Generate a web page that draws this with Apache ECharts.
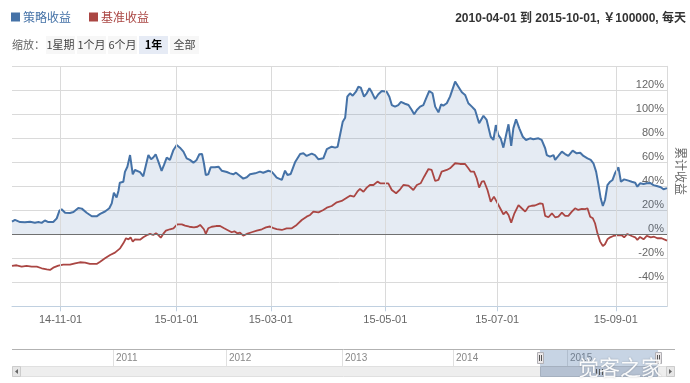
<!DOCTYPE html>
<html>
<head>
<meta charset="utf-8">
<script src="https://cdn.jsdelivr.net/npm/echarts@6.0.0/dist/echarts.min.js"></script>
<style>
html,body{margin:0;padding:0;background:#fff;}
#chart{width:690px;height:383px;}
</style>
</head>
<body>
<div id="chart"></div>
<script>
// x = trading-day index from 2014-10-08 (0) to 2015-09-30 (243)
const seriesNames = ['策略收益', '基准收益'];
const strategy = [[0,10.5],[1.1,12],[3,10.2],[4.8,10],[6.7,10.5],[8.5,9.7],[9.8,10.2],[11,9.5],[12.2,11.5],[13.5,10.2],[14.1,8.7],[15.3,10.2],[16.6,13.3],[17.6,19.7],[18.4,20.8],[19.7,18],[21.5,17.8],[22.8,18.6],[24.6,22],[25.9,21.4],[27.7,18],[29.6,15],[31.4,15],[32.7,17],[34.5,19],[36.1,21.7],[37,25.8],[37.8,34.7],[38.8,30.7],[39.5,36.3],[40,43],[41.3,43.8],[41.9,52],[42.8,56.3],[43.8,66],[44.8,50],[45.6,53.6],[47.5,51.8],[48.7,48.3],[49.7,57.8],[50.6,66],[51.6,62.5],[52.4,64],[53.3,66.7],[54.3,60.5],[55.5,52.8],[56.4,57.8],[57.4,63.9],[58.6,62],[59.9,70.3],[61.1,74.4],[62.3,72.2],[63.6,68.9],[64.8,63.3],[66,62],[67.3,59.7],[68.5,62],[69.5,66.7],[70.5,66.9],[71.2,59.2],[71.9,49.4],[72.8,50],[73.7,55.8],[75.3,55.8],[76.6,56.3],[77.8,53],[79.7,51.9],[80.9,50.8],[82.1,50],[83.1,51.3],[84.6,48.6],[85.8,46.4],[87.1,47.5],[88.3,50],[90.2,50.8],[92,52.2],[93.2,51.3],[95.1,53],[96.4,52],[97.2,50],[98.2,47.2],[100.1,45.3],[101.3,53],[102.2,49.4],[103.4,50.3],[105,60],[106.9,66.9],[108.1,67.5],[109.3,65.3],[111.2,67.2],[112.4,66],[113.7,62.5],[115.5,63.3],[116.8,71],[118.6,73],[119.9,72.2],[120.8,72.9],[121.7,82.8],[122.7,93.8],[123.6,97.2],[124.4,114.7],[125.4,117.5],[126.4,115.5],[127.6,118.8],[128.5,123],[129.4,122.2],[130.6,114.7],[131.6,117.5],[132.6,121.7],[133.5,118.3],[134.7,112.7],[135.9,116.7],[137.2,119.4],[139,118.8],[140,114.7],[140.9,107.7],[142.1,106.4],[143.3,107.7],[144.3,110.3],[145.8,108.8],[147.1,107.7],[148.3,103.6],[149.2,100],[150.2,103.6],[151.4,106.4],[152.6,107.7],[153.9,114.7],[154.8,119.4],[156,117.5],[157,106.4],[158.2,101.6],[159.2,108.3],[160,107.2],[161.3,109.2],[162.5,114.7],[163.2,116.1],[164.4,127.2],[165.6,123],[166.9,118.3],[168.1,116.1],[169.3,109.2],[170.6,106.4],[171.8,103.6],[173.3,92.5],[174.9,98.8],[176.1,95.3],[177.6,81.3],[178.6,78.6],[179.5,91],[180.4,82.8],[181.3,80],[182.3,72.2],[183.3,82.8],[184.2,91.7],[185.2,73.6],[186,88.3],[187,95.8],[188.2,88.3],[189.5,81.3],[190.7,78.6],[192.2,80],[193.4,79.2],[195.3,80],[196.5,78.6],[197.8,71.7],[198.4,66],[199.6,64.7],[200.9,66],[201.5,62],[202.7,65.3],[204,68.9],[205.2,66.9],[206.4,65.3],[208,69.7],[209.5,67.5],[210.8,68],[212,65.3],[213.5,63.3],[214.7,62],[215.7,59.2],[216.7,52.2],[217.6,41],[218.4,30],[219.2,23.6],[220,28.6],[220.9,41],[221.9,43.8],[222.8,45.3],[223.7,50.8],[225,55.8],[225.9,43.8],[227.1,45.8],[228.7,44.7],[229.9,43.8],[231.2,43],[232,39.7],[233,42.5],[234.3,41.9],[235.5,42.5],[236.7,42.8],[238,41],[239.2,40.2],[240.7,39.2],[241.7,37.5],[243,38.5]];
const benchmark = [[0,-26.4],[1.7,-25.8],[3.6,-27],[5.4,-26.4],[7.3,-27],[9.2,-27],[11,-28.3],[12.9,-29.2],[14.1,-29.7],[15.3,-27.8],[17.2,-26.1],[19,-25.3],[21.5,-25.3],[23.4,-24.2],[25.2,-23.3],[27.1,-23.6],[28.9,-24.7],[31.4,-24.7],[32.7,-22.8],[34.5,-20],[36.4,-17.2],[38.2,-15.3],[40.1,-11.7],[41.3,-7.5],[42.3,-3.3],[43.2,-4.2],[44,-2.5],[44.8,-6.1],[45.6,-4.2],[47.5,-4.5],[48.7,-2.5],[50,-0.8],[51.2,0.3],[52.4,-0.6],[53.4,0.8],[54.3,-0.6],[55.2,-2.8],[56.1,0.3],[57.1,3],[58.6,4.2],[59.9,5],[61.3,8.3],[63,8.3],[64.2,7.2],[65.8,6.3],[67.5,5.8],[68.8,6.3],[69.8,7.8],[70.5,8.3],[71.2,4.2],[71.9,0.3],[72.8,5],[74.1,6.3],[75.7,6.9],[77.2,6.9],[78.7,5],[79.9,3.6],[81.5,1.7],[82.5,2.5],[83.6,0.8],[84.6,1.4],[85.8,-1.1],[87.1,0.3],[88.9,1.7],[90.8,3],[92.7,4.2],[94.2,5.8],[95.7,6.5],[97,5.2],[98.2,4.4],[100.1,3.6],[101.9,5],[103.8,5],[105.6,7.8],[107.5,11.9],[109.3,14.7],[110.6,16.1],[111.8,18.9],[113.7,18.3],[115.5,20.3],[116.8,22.2],[118.6,23.6],[120.5,26.7],[122.3,27.8],[124.2,30.5],[125.4,32.2],[126.9,31.4],[128.1,35.5],[129.1,37.8],[130.4,35.5],[131.6,38.9],[132.8,41.1],[134.1,41.1],[135.6,43.9],[136.6,42.5],[137.8,42.5],[139.6,42.5],[140.9,36.9],[142.5,34.2],[144,37.5],[145.2,41.1],[147.1,40.5],[148.9,36.9],[150.2,41.1],[151.6,42.5],[152.9,48],[154.5,54.4],[155.7,53.6],[157,44.4],[158.2,45.3],[159.4,52.2],[161.3,53.6],[162.5,55],[164.4,59.2],[166.2,58.6],[168.1,58.6],[169.3,55],[170.2,52.2],[171.4,52.2],[172.4,46.7],[173.3,38.9],[174.3,43.9],[175.1,44.4],[176.4,36.9],[177.6,27.2],[178.8,31.4],[179.8,27.2],[181.1,21.7],[182.3,16.7],[183.3,18.9],[184.2,16.1],[185.2,9.7],[186.4,17.5],[187.9,24.4],[189.1,21.7],[190.4,18.9],[191.6,23],[192.8,23.8],[194,24],[195.9,25.8],[196.9,25.3],[197.8,15.3],[199,14.2],[200.3,17.5],[201.5,14.2],[202.7,14.7],[204,18],[205.2,15.3],[206.4,15.3],[207.7,18.9],[208.9,21.7],[210.1,20.3],[211.4,21.1],[212.6,21],[213.5,21.7],[214.5,14.7],[215.5,13.3],[216.3,9.2],[217.2,0.8],[218.2,-6.1],[219.2,-9.7],[220,-8.3],[220.9,-4.2],[221.9,-2.5],[223.1,-1.4],[225,-0.6],[226.2,-0.8],[227.1,-2.5],[228.3,0.3],[229.9,-1.4],[231.2,-2.5],[232,-4.7],[233,-2.2],[234.3,-4.2],[235.5,-1.4],[237,-2.5],[238.2,-2],[239.4,-3.3],[241,-3.3],[243,-5.3]];
const tickDays = [18, 61, 96, 138.5, 180, 224];
const tickLabels = ['14-11-01', '15-01-01', '15-03-01', '15-05-01', '15-07-01', '15-09-01'];
const yearLabels = ['2011', '2012', '2013', '2014', '2015'];
const rangeButtons = ['1星期', '1个月', '6个月', '1年', '全部'];
const headerText = '2010-04-01 到 2015-10-01, ￥100000, 每天';

const FONT = '"Liberation Sans", "Noto Sans CJK SC", sans-serif';
const CJK = '"Noto Sans CJK SC", "Liberation Sans", sans-serif';

const chart = echarts.init(document.getElementById('chart'), null, {renderer: 'canvas'});

// decorative elements (range selector, navigator, header)
const g = [];
g.push({type:'text', x:686, y:19, style:{text:headerText, fill:'#333', font:'bold 12px ' + FONT, align:'right', verticalAlign:'middle'}});
g.push({type:'text', x:12, y:45, style:{text:'缩放：', fill:'#666', font:'11px ' + CJK, align:'left', verticalAlign:'middle'}});
const btnX = [46, 77, 108, 139, 170];
const btnW = [29, 29, 29, 29, 29];
rangeButtons.forEach((t, i) => {
  const sel = t === '1年';
  g.push({type:'rect', shape:{x:btnX[i], y:36, width:btnW[i], height:18}, style:{fill: sel ? '#e6ebf5' : '#f7f7f7'}});
  g.push({type:'text', x:btnX[i] + btnW[i] / 2, y:45, style:{text:t, fill: sel ? '#000' : '#444', font:(sel ? 'bold ' : '') + '11px ' + CJK, align:'center', verticalAlign:'middle'}});
});
g.push({type:'text', x:681, y:171, rotation:-Math.PI / 2, style:{text:'累计收益', fill:'#666', font:'12px ' + CJK, align:'center', verticalAlign:'middle'}});
// navigator
g.push({type:'line', shape:{x1:12, y1:349.5, x2:675, y2:349.5}, style:{stroke:'#b2b2b2', lineWidth:1}});
const sepX = [113, 226, 342, 453, 567];
yearLabels.forEach((t, i) => {
  g.push({type:'line', shape:{x1:sepX[i] + 0.5, y1:350, x2:sepX[i] + 0.5, y2:366}, style:{stroke:'#e0e0e0', lineWidth:1}});
  g.push({type:'text', x:sepX[i] + 3, y:358, style:{text:t, fill:'#888', font:'10px ' + FONT, align:'left', verticalAlign:'middle'}});
});
g.push({type:'rect', shape:{x:12.5, y:366.5, width:662, height:10}, style:{fill:'#eeeeee', stroke:'#e0e0e0', lineWidth:1}});
g.push({type:'rect', shape:{x:12.5, y:366.5, width:8, height:10}, style:{fill:'#e6e6e6', stroke:'#cccccc', lineWidth:1}});
g.push({type:'polygon', shape:{points:[[15, 371.5], [18, 369], [18, 374]]}, style:{fill:'#666'}});
g.push({type:'rect', shape:{x:666.5, y:366.5, width:8, height:10}, style:{fill:'#e6e6e6', stroke:'#cccccc', lineWidth:1}});
g.push({type:'polygon', shape:{points:[[672, 371.5], [669, 369], [669, 374]]}, style:{fill:'#666'}});
g.push({type:'rect', shape:{x:540, y:350, width:118, height:16}, style:{fill:'rgba(69,114,167,0.3)'}});
g.push({type:'rect', shape:{x:540.5, y:366.5, width:117, height:10}, style:{fill:'#b5c1d2', stroke:'#a5b0bf', lineWidth:1}});
[596, 599, 602].forEach(x => g.push({type:'line', shape:{x1:x + 0.5, y1:369, x2:x + 0.5, y2:375}, style:{stroke:'#555', lineWidth:1}}));
[537, 655].forEach(x => {
  g.push({type:'rect', shape:{x:x + 0.5, y:352.5, width:6, height:11}, style:{fill:'#ebe7e8', stroke:'#b2b1b6', lineWidth:1}});
  g.push({type:'line', shape:{x1:x + 2.5, y1:355, x2:x + 2.5, y2:361}, style:{stroke:'#555', lineWidth:1}});
  g.push({type:'line', shape:{x1:x + 4.5, y1:355, x2:x + 4.5, y2:361}, style:{stroke:'#555', lineWidth:1}});
});
g.push({type:'text', x:578, y:367, z:100, style:{text:'觉客之家', fill:'rgba(255,255,255,0.95)', font:'21px ' + CJK, align:'left', verticalAlign:'middle', textShadowColor:'rgba(0,0,0,0.25)', textShadowBlur:2}});

const option = {
  animation: false,
  backgroundColor: '#fff',
  legend: {
    left: 11, top: 11, padding: 0, itemGap: 18, itemWidth: 9, itemHeight: 9, icon: 'rect',
    textStyle: {fontSize: 12, fontFamily: CJK, padding: [0, 0, 0, -2]},
    data: [
      {name: seriesNames[0], textStyle: {color: '#4572A7'}},
      {name: seriesNames[1], textStyle: {color: '#AA4643'}}
    ]
  },
  grid: {left: 12, right: 23, top: 66.3, bottom: 76.7, containLabel: false},
  xAxis: {
    type: 'value', min: 0, max: 243,
    axisLine: {show: true, onZero: false, lineStyle: {color: '#C0D0E0'}},
    axisTick: {show: true, customValues: tickDays, length: 5, lineStyle: {color: '#C0D0E0'}},
    axisLabel: {customValues: tickDays, formatter: v => tickLabels[tickDays.indexOf(v)] || '', color: '#666', fontSize: 11, fontFamily: FONT, margin: 8},
    splitLine: {show: false}
  },
  yAxis: {
    type: 'value', position: 'right', min: -60, max: 140, interval: 20,
    axisLine: {show: true, onZero: false, lineStyle: {color: '#dadada'}},
    axisTick: {show: false},
    axisLabel: {inside: true, formatter: '{value}%', showMinLabel: false, showMaxLabel: false, verticalAlign: 'bottom', margin: 3, color: '#666', fontSize: 11, fontFamily: FONT},
    splitLine: {show: true, lineStyle: {color: '#dadada'}}
  },
  series: [
    {
      name: 'grid', type: 'line', data: [], silent: true, z: 1,
      markLine: {silent: true, symbol: 'none', label: {show: false}, lineStyle: {color: '#dadada', width: 1, type: 'solid'},
        data: tickDays.map(d => ({xAxis: d}))}
    },
    {
      name: seriesNames[0], type: 'line', data: strategy, showSymbol: false, symbol: 'none',
      color: '#4572A7', itemStyle: {color: '#4572A7'},
      lineStyle: {color: '#4572A7', width: 2},
      areaStyle: {color: 'rgba(69,114,167,0.2)', origin: 0},
      markLine: {silent: true, symbol: 'none', label: {show: false}, lineStyle: {color: '#707070', width: 1, type: 'solid'}, data: [{yAxis: 0}]},
      z: 2
    },
    {
      name: seriesNames[1], type: 'line', data: benchmark, showSymbol: false, symbol: 'none',
      color: '#AA4643', itemStyle: {color: '#AA4643'},
      lineStyle: {color: '#AA4643', width: 1.8},
      z: 3
    }
  ],
  graphic: {elements: g}
};
chart.setOption(option);
</script>
</body>
</html>
